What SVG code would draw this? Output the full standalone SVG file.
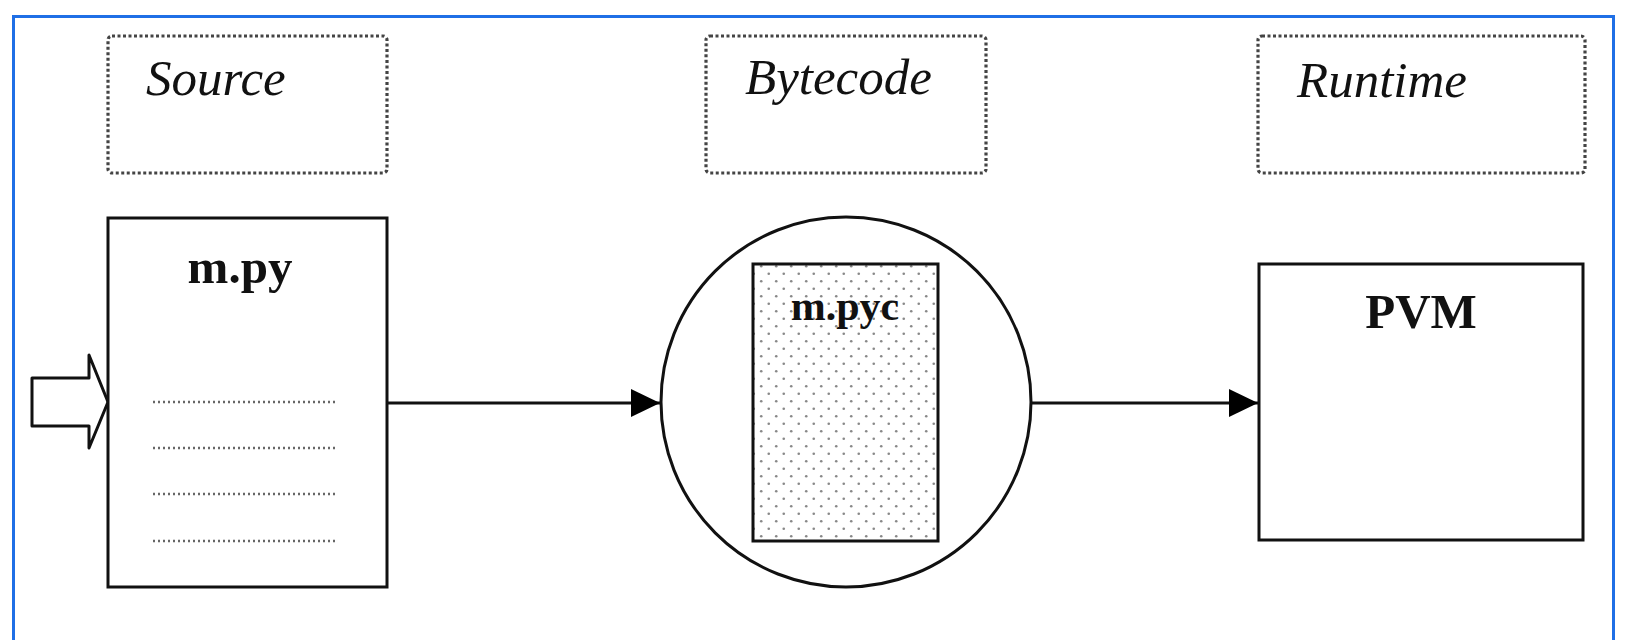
<svg xmlns="http://www.w3.org/2000/svg" width="1633" height="640" viewBox="0 0 1633 640">
<defs>
<style>
.frame{fill:#fff;stroke:#1f6fe6;stroke-width:3}
.phase{fill:none;stroke:#444;stroke-width:3.2;stroke-dasharray:3 2.5}
.phase-t{font-family:"Liberation Serif",serif;font-style:italic;font-size:51px;fill:#111}
.node{fill:#fff;stroke:#111;stroke-width:3}
.node-t{font-family:"Liberation Serif",serif;font-weight:bold;fill:#111;text-anchor:middle}
.code{stroke:#666;stroke-width:2.5;stroke-dasharray:2 3}
.conn{stroke:#111;stroke-width:3;fill:none}
</style>
<pattern id="dots" patternUnits="userSpaceOnUse" width="15" height="15">
<rect width="15" height="15" fill="#fff"/>
<circle cx="3.75" cy="3.75" r="1.3" fill="#888"/>
<circle cx="11.25" cy="11.25" r="1.3" fill="#888"/>
</pattern>
<marker id="ah" markerWidth="31" markerHeight="30" refX="30" refY="15" markerUnits="userSpaceOnUse" orient="auto">
<path d="M1,1 L30,15 L1,29 Z" fill="#000"/>
</marker>
</defs>
<rect x="0" y="0" width="1633" height="640" fill="#fff"/>
<rect class="frame" x="13.5" y="16.5" width="1600" height="630"/>

<g id="phase-source">
<rect class="phase" x="108" y="36" width="279" height="137" rx="4"/>
<text class="phase-t" x="146" y="95">Source</text>
</g>
<g id="phase-bytecode">
<rect class="phase" x="706" y="36" width="280" height="137" rx="4"/>
<text class="phase-t" x="745" y="94">Bytecode</text>
</g>
<g id="phase-runtime">
<rect class="phase" x="1258" y="36" width="327" height="137" rx="4"/>
<text class="phase-t" x="1297" y="97">Runtime</text>
</g>

<g id="input-arrow">
<path d="M32,378 L89,378 L89,355 L108,402 L89,448 L89,426 L32,426 Z" fill="#fff" stroke="#111" stroke-width="3" stroke-linejoin="round"/>
</g>

<g id="node-mpy">
<rect class="node" x="108" y="218" width="279" height="369"/>
<text class="node-t" x="240" y="283" font-size="49">m.py</text>
<line class="code" x1="153" y1="402" x2="336" y2="402"/>
<line class="code" x1="153" y1="448" x2="336" y2="448"/>
<line class="code" x1="153" y1="494" x2="336" y2="494"/>
<line class="code" x1="153" y1="541" x2="336" y2="541"/>
</g>

<g id="node-bytecode">
<circle class="node" cx="846" cy="402" r="185"/>
<rect x="753" y="264" width="185" height="277" fill="url(#dots)" stroke="#111" stroke-width="3"/>
<text class="node-t" x="845" y="320" font-size="42">m.pyc</text>
</g>

<g id="node-pvm">
<rect class="node" x="1259" y="264" width="324" height="276"/>
<text class="node-t" x="1421" y="328" font-size="49">PVM</text>
</g>

<g id="connectors">
<line class="conn" x1="387" y1="403" x2="660" y2="403" marker-end="url(#ah)"/>
<line class="conn" x1="1031" y1="403" x2="1258" y2="403" marker-end="url(#ah)"/>
</g>
</svg>
